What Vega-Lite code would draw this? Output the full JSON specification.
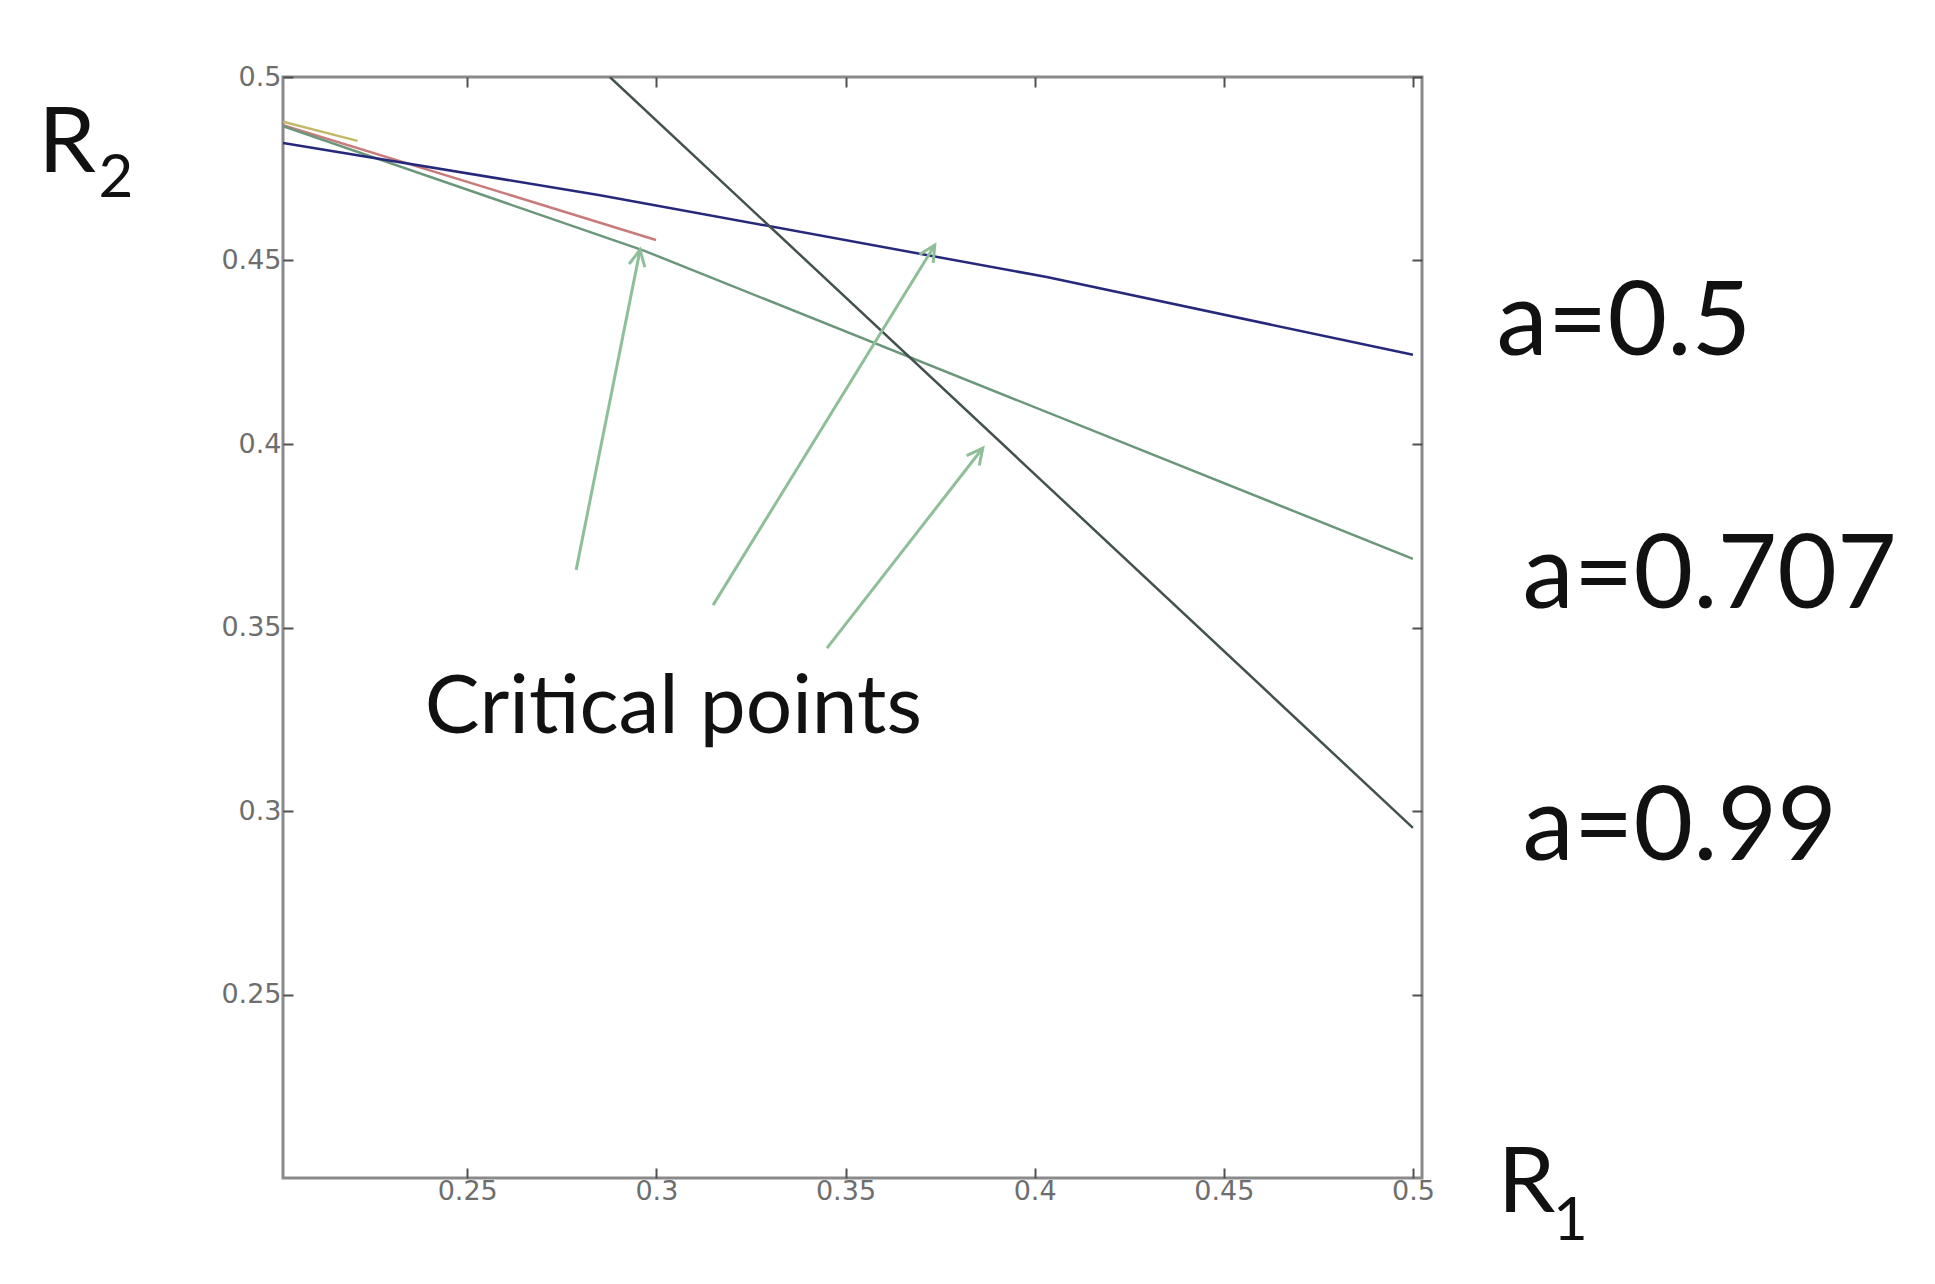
{
  "$schema": "https://vega.github.io/schema/vega-lite/v6.json",
  "width": 1139,
  "height": 1101,
  "autosize": {"type": "none"},
  "padding": {"left": 283, "top": 77, "right": 513, "bottom": 106},
  "background": "white",
  "config": {
    "view": {"stroke": "#8a8a8a", "strokeWidth": 3},
    "axis": {
      "domain": false,
      "grid": false,
      "tickSize": -10,
      "tickWidth": 2,
      "tickColor": "#505050",
      "labelFont": "DejaVu Sans",
      "labelFontSize": 27,
      "labelColor": "#6e6e6e",
      "title": null
    }
  },
  "resolve": {"axis": {"x": "independent", "y": "independent"}},
  "layer": [
    {
      "data": {"values": [
        {"series": "olive", "x": 0.2013, "y": 0.4878},
        {"series": "olive", "x": 0.221, "y": 0.4826},
        {"series": "red", "x": 0.2013, "y": 0.4869},
        {"series": "red", "x": 0.2999, "y": 0.4556},
        {"series": "a=0.707", "x": 0.2013, "y": 0.4866},
        {"series": "a=0.707", "x": 0.2967, "y": 0.4527},
        {"series": "a=0.707", "x": 0.5, "y": 0.3687},
        {"series": "a=0.5", "x": 0.2013, "y": 0.482},
        {"series": "a=0.5", "x": 0.2851, "y": 0.4678},
        {"series": "a=0.5", "x": 0.4032, "y": 0.4455},
        {"series": "a=0.5", "x": 0.5, "y": 0.4243},
        {"series": "a=0.99", "x": 0.2877, "y": 0.5},
        {"series": "a=0.99", "x": 0.4, "y": 0.3918},
        {"series": "a=0.99", "x": 0.5, "y": 0.2954}
      ]},
      "mark": {"type": "line", "strokeWidth": 2.5, "clip": true},
      "encoding": {
        "x": {"field": "x", "type": "quantitative",
              "scale": {"domain": [0.2013, 0.5024], "nice": false, "zero": false},
              "axis": {"orient": "bottom", "values": [0.25, 0.3, 0.35, 0.4, 0.45, 0.5], "format": ".2~f", "labelPadding": 10}},
        "y": {"field": "y", "type": "quantitative",
              "scale": {"domain": [0.2, 0.5], "nice": false, "zero": false},
              "axis": {"orient": "left", "values": [0.25, 0.3, 0.35, 0.4, 0.45, 0.5], "format": ".2~f", "labelPadding": 12}},
        "color": {"field": "series", "type": "nominal", "legend": null,
                  "scale": {"domain": ["olive", "red", "a=0.707", "a=0.5", "a=0.99"],
                            "range": ["#c2b866", "#c97b7b", "#6a977a", "#26287a", "#44524f"]}},
        "order": {"field": "x", "type": "quantitative"}
      }
    },
    {
      "data": {"values": [
        {"x": 0.25, "y": 0.25},
        {"x": 0.5, "y": 0.5}
      ]},
      "mark": {"type": "point", "opacity": 0},
      "encoding": {
        "x": {"field": "x", "type": "quantitative",
              "scale": {"domain": [0.2013, 0.5024], "nice": false, "zero": false},
              "axis": {"orient": "top", "values": [0.25, 0.3, 0.35, 0.4, 0.45, 0.5], "labels": false}},
        "y": {"field": "y", "type": "quantitative",
              "scale": {"domain": [0.2, 0.5], "nice": false, "zero": false},
              "axis": {"orient": "right", "values": [0.25, 0.3, 0.35, 0.4, 0.45, 0.5], "labels": false}}
      }
    },
    {
      "data": {"values": [
        {"x": 0.2788, "y": 0.3657, "x2": 0.2957, "y2": 0.4529},
        {"x": 0.315, "y": 0.3561, "x2": 0.3736, "y2": 0.4542},
        {"x": 0.3451, "y": 0.3444, "x2": 0.3863, "y2": 0.3989}
      ]},
      "mark": {"type": "rule", "color": "#8fbf99", "strokeWidth": 3},
      "encoding": {
        "x": {"field": "x", "type": "quantitative", "scale": {"domain": [0.2013, 0.5024], "nice": false, "zero": false}, "axis": null},
        "y": {"field": "y", "type": "quantitative", "scale": {"domain": [0.2, 0.5], "nice": false, "zero": false}, "axis": null},
        "x2": {"field": "x2"},
        "y2": {"field": "y2"}
      }
    },
    {
      "data": {"values": [
        {"x2": 0.2957, "y2": 0.4529, "angle": 11.3},
        {"x2": 0.3736, "y2": 0.4542, "angle": 31.7},
        {"x2": 0.3863, "y2": 0.3989, "angle": 38}
      ]},
      "mark": {"type": "point", "shape": "M -1 2 L 0 0 L 1 2", "filled": false, "size": 256, "strokeWidth": 3, "color": "#8fbf99", "opacity": 1},
      "encoding": {
        "x": {"field": "x2", "type": "quantitative", "scale": {"domain": [0.2013, 0.5024], "nice": false, "zero": false}, "axis": null},
        "y": {"field": "y2", "type": "quantitative", "scale": {"domain": [0.2, 0.5], "nice": false, "zero": false}, "axis": null},
        "angle": {"field": "angle", "type": "quantitative", "scale": null}
      }
    },
    {
      "data": {"values": [
        {"label": "a=0.5", "x": 0.5221, "y": 0.4243},
        {"label": "a=0.707", "x": 0.529, "y": 0.3553},
        {"label": "a=0.99", "x": 0.529, "y": 0.2867}
      ]},
      "mark": {"type": "text", "align": "left", "baseline": "alphabetic", "font": "Lato", "fontSize": 103, "color": "#111111"},
      "encoding": {
        "x": {"field": "x", "type": "quantitative", "scale": {"domain": [0.2013, 0.5024], "nice": false, "zero": false}, "axis": null},
        "y": {"field": "y", "type": "quantitative", "scale": {"domain": [0.2, 0.5], "nice": false, "zero": false}, "axis": null},
        "text": {"field": "label"}
      }
    },
    {
      "data": {"values": [
        {"label": "Critical points", "x": 0.2388, "y": 0.3213}
      ]},
      "mark": {"type": "text", "align": "left", "baseline": "alphabetic", "font": "Lato", "fontSize": 82, "color": "#111111"},
      "encoding": {
        "x": {"field": "x", "type": "quantitative", "scale": {"domain": [0.2013, 0.5024], "nice": false, "zero": false}, "axis": null},
        "y": {"field": "y", "type": "quantitative", "scale": {"domain": [0.2, 0.5], "nice": false, "zero": false}, "axis": null},
        "text": {"field": "label"}
      }
    },
    {
      "data": {"values": [
        {"label": "R", "x": 0.1366, "y": 0.4741},
        {"label": "R", "x": 0.5224, "y": 0.1907}
      ]},
      "mark": {"type": "text", "align": "left", "baseline": "alphabetic", "font": "Lato", "fontSize": 92, "color": "#111111"},
      "encoding": {
        "x": {"field": "x", "type": "quantitative", "scale": {"domain": [0.2013, 0.5024], "nice": false, "zero": false}, "axis": null},
        "y": {"field": "y", "type": "quantitative", "scale": {"domain": [0.2, 0.5], "nice": false, "zero": false}, "axis": null},
        "text": {"field": "label"}
      }
    },
    {
      "data": {"values": [
        {"label": "2", "x": 0.1525, "y": 0.4673},
        {"label": "1", "x": 0.537, "y": 0.1831}
      ]},
      "mark": {"type": "text", "align": "left", "baseline": "alphabetic", "font": "Lato", "fontSize": 60, "color": "#111111"},
      "encoding": {
        "x": {"field": "x", "type": "quantitative", "scale": {"domain": [0.2013, 0.5024], "nice": false, "zero": false}, "axis": null},
        "y": {"field": "y", "type": "quantitative", "scale": {"domain": [0.2, 0.5], "nice": false, "zero": false}, "axis": null},
        "text": {"field": "label"}
      }
    }
  ]
}
